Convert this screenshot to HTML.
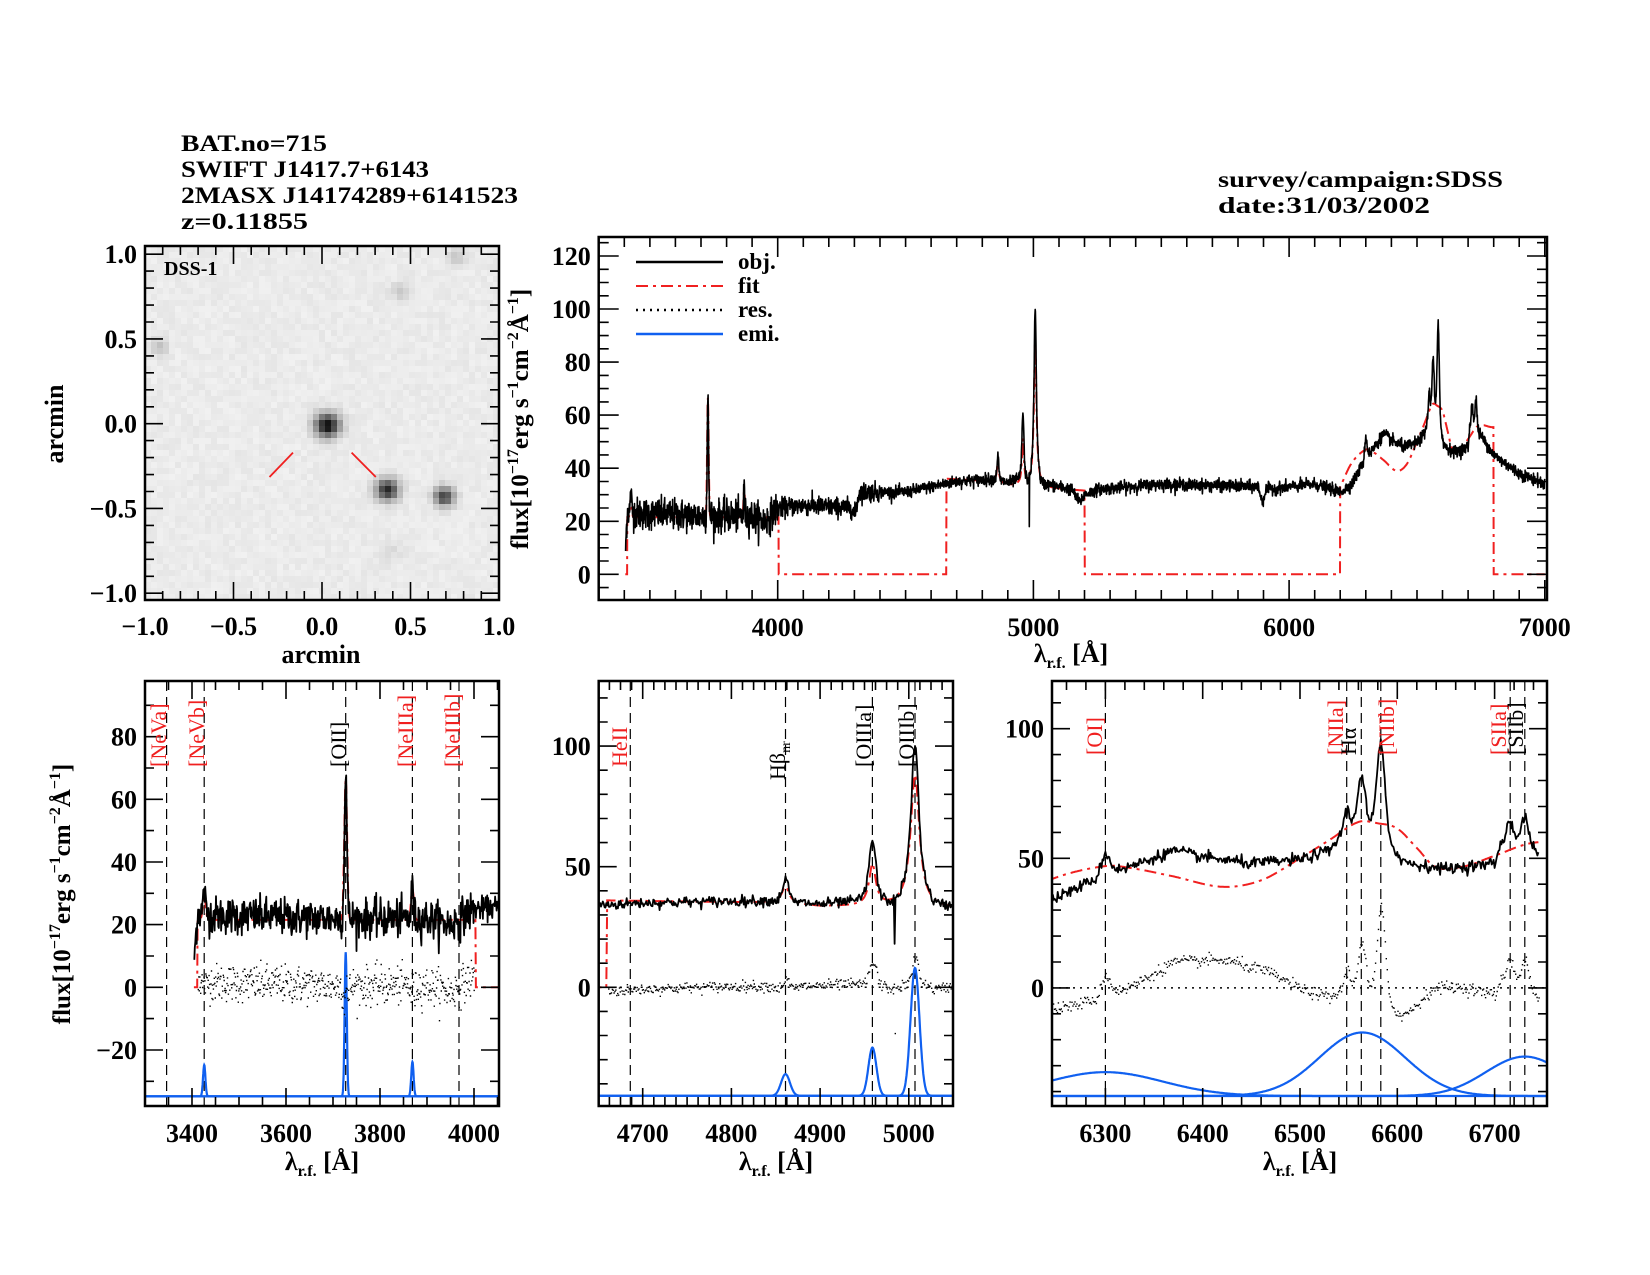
<!DOCTYPE html>
<html><head><meta charset="utf-8">
<style>
html,body{margin:0;padding:0;background:#fff;}
svg{display:block;}
text{font-family:"Liberation Serif",serif;}
</style></head>
<body>
<svg id="s" xmlns="http://www.w3.org/2000/svg" width="1650" height="1275" viewBox="0 0 1650 1275">
<rect width="1650" height="1275" fill="#fff"/>
<g font-size="23" fill="#000" font-weight="bold">
<text x="181" y="151" textLength="146" lengthAdjust="spacingAndGlyphs">BAT.no=715</text>
<text x="181" y="177" textLength="248" lengthAdjust="spacingAndGlyphs">SWIFT J1417.7+6143</text>
<text x="181" y="203" textLength="337" lengthAdjust="spacingAndGlyphs">2MASX J14174289+6141523</text>
<text x="181" y="229" textLength="127" lengthAdjust="spacingAndGlyphs">z=0.11855</text>
<text x="1218" y="187" textLength="285" lengthAdjust="spacingAndGlyphs">survey/campaign:SDSS</text>
<text x="1218" y="213" textLength="212" lengthAdjust="spacingAndGlyphs">date:31/03/2002</text>
</g>
<g id="dyn"></g>
</svg>
<script>
(function(){
var out=[];
function A(s){out.push(s);}
var seed=12345;
function rnd(){seed=(seed*1103515245+12345)%2147483648;return seed/2147483648;}
function gauss(){var u=rnd()||1e-9,v=rnd();return Math.sqrt(-2*Math.log(u))*Math.cos(2*Math.PI*v);}
function lin(pts,x){if(x<=pts[0][0])return pts[0][1];for(var i=1;i<pts.length;i++){if(x<=pts[i][0]){var a=pts[i-1],b=pts[i];return a[1]+(b[1]-a[1])*(x-a[0])/(b[0]-a[0]);}}return pts[pts.length-1][1];}
function cr(pts,x){
 var n=pts.length;if(x<=pts[0][0])return pts[0][1];if(x>=pts[n-1][0])return pts[n-1][1];
 var i=1;while(pts[i][0]<x)i++;
 var p1=pts[i-1],p2=pts[i],p0=pts[Math.max(0,i-2)],p3=pts[Math.min(n-1,i+1)];
 var t=(x-p1[0])/(p2[0]-p1[0]);
 var m1=(p2[1]-p0[1])/(p2[0]-p0[0])*(p2[0]-p1[0]);
 var m2=(p3[1]-p1[1])/(p3[0]-p1[0])*(p2[0]-p1[0]);
 var t2=t*t,t3=t2*t;
 return (2*t3-3*t2+1)*p1[1]+(t3-2*t2+t)*m1+(-2*t3+3*t2)*p2[1]+(t3-t2)*m2;}
function G(x,c,a,s){return a*Math.exp(-(x-c)*(x-c)/(2*s*s));}
function L(x,c,a,g){return a/(1+(x-c)*(x-c)/(g*g));}
var contPts=[[3405,10],[3412,24],[3450,23],[3700,22],[3900,22],[3950,20],[4000,25],[4100,26],[4290,25],[4300,22],[4320,31],[4500,31],[4700,35],[4850,36],[4900,34.5],[4950,36],[5050,34],[5150,32],[5180,27],[5200,30],[5250,32],[5500,34],[5880,33],[5895,27],[5910,32],[6100,34],[6200,31],[6245,34],[6290,42],[6300,46],[6320,46],[6370,53],[6400,50.5],[6450,48],[6500,49.5],[6530,53],[6545,60],[6555,62],[6575,62],[6595,55],[6605,49],[6620,47.5],[6650,46],[6700,48],[6706,55],[6745,53],[6760,51],[6800,45],[6900,38],[7000,34]];
var lam=[],obj=[],fit=[];
for(var l=3400;l<=7000;l+=1){
 var c=lin(contPts,l);
 var v=c+G(l,3426,8,2)+G(l,3727,48,2.5)+G(l,3869,11,2)+G(l,4861,9,3.5)+G(l,4959,20,3.5)+G(l,5007,40,3.5)+G(l,5007,25,9)+G(l,4959,5,8)
   +G(l,6300,6,4)+G(l,6548,8,3)+G(l,6563,20,4)+G(l,6583,35,4)+G(l,6716,10,4)+G(l,6731,12,4);
 var ns=l<4000?3.0:(l<4400?1.8:1.1);
 v+=gauss()*ns;
 if(l==4984)v=18;
 lam.push(l);obj.push(v);
 var f=null;
 if(l<3412)f=0;
 else if(l<=4003)f=21.5+G(l,3426,8,3)+G(l,3727,45,3)+G(l,3869,10,3);
 else if(l<4660)f=0;
 else if(l<=5200)f=lin([[4660,36],[4850,35],[4900,33.5],[4950,33.5],[5050,32.5],[5200,31.5]],l)+L(l,4861,7,5)+L(l,4959,17,4.5)+L(l,5007,55,6);
 else if(l<6200)f=0;
 else if(l<6800)f=cr([[6200,33],[6245,42],[6300,47],[6330,46],[6370,43],[6420,39],[6460,41.5],[6500,50],[6530,57],[6560,64],[6580,63.5],[6600,61.5],[6620,54],[6640,46.5],[6670,47],[6700,51],[6740,56],[6790,55.5]],l);
 else f=0;
 fit.push(f);
}
function mk(ax,al,sx,ay,sy,x0,x1,y0,y1){return {px:function(l){return ax+(l-al)*sx;},py:function(v){return ay-v*sy;},lx:function(x){return al+(x-ax)/sx;},vy:function(y){return (ay-y)/sy;},x0:x0,x1:x1,y0:y0,y1:y1};}
var TOP=mk(777.7,4000,0.2557,574.3,2.6525,598.7,1547,237,600);
var P1=mk(192,3400,0.47,987.3,3.133,145,499,681,1106);
var P2=mk(642.7,4700,0.887,987.3,2.412,598.7,953,681,1106);
var P3=mk(1105.4,6300,0.973,987.9,2.592,1052,1547,681,1106);
var cid=0;
function clip(P){cid++;A('<clipPath id="c'+cid+'"><rect x="'+P.x0+'" y="'+P.y0+'" width="'+(P.x1-P.x0)+'" height="'+(P.y1-P.y0)+'"/></clipPath>');return 'c'+cid;}
function line(P,arr,lo,hi,style){
 var d='',first=true;
 for(var i=0;i<lam.length;i++){var l=lam[i];if(l<lo||l>hi)continue;var v=arr(i);if(v===null)continue;
  d+=(first?'M':'L')+P.px(l).toFixed(1)+' '+P.py(v).toFixed(1);first=false;}
 A('<path d="'+d+'" fill="none" '+style+'/>');}
function fmtI(t){t=Math.round(t);return (t<0?'\u2212':'')+Math.abs(t);}
function fmtA(t){var s=Math.abs(t).toFixed(1);return (t<-1e-9?'\u2212':'')+s;}
function axes(P,xl,xmaj,xmin,yl,ymaj,ymin,fmt,majL,minL){
 var s='';
 var lmin=P.lx(P.x0),lmax=P.lx(P.x1);
 for(var t=Math.ceil(lmin/xmin)*xmin;t<=lmax+1e-6;t+=xmin){
  var x=P.px(t);var isM=Math.abs(t/xmaj-Math.round(t/xmaj))<1e-6;var len=isM?majL:minL;
  s+='M'+x.toFixed(1)+' '+P.y1+'v'+(-len)+'M'+x.toFixed(1)+' '+P.y0+'v'+len;
  if(isM&&xl)A('<text x="'+x.toFixed(1)+'" y="'+(P.y1+36)+'" font-size="26" font-weight="bold" text-anchor="middle">'+fmt(t)+'</text>');}
 var vmin=P.vy(P.y1),vmax=P.vy(P.y0);
 for(var t=Math.ceil(vmin/ymin)*ymin;t<=vmax+1e-6;t+=ymin){
  var y=P.py(t);var isM=Math.abs(t/ymaj-Math.round(t/ymaj))<1e-6;var len=isM?majL:minL;
  s+='M'+P.x0+' '+y.toFixed(1)+'h'+len+'M'+P.x1+' '+y.toFixed(1)+'h'+(-len);
  if(isM&&yl)A('<text x="'+(P.x0-8)+'" y="'+(y+9).toFixed(1)+'" font-size="26" font-weight="bold" text-anchor="end">'+fmtI(t)+'</text>');}
 A('<path d="'+s+'" stroke="#000" stroke-width="1.6" fill="none"/>');
 A('<rect x="'+P.x0+'" y="'+P.y0+'" width="'+(P.x1-P.x0)+'" height="'+(P.y1-P.y0)+'" fill="none" stroke="#000" stroke-width="2.5"/>');}
var RED='#f02020',BLUE='#1060f0';
var FIT='stroke="'+RED+'" stroke-width="2" stroke-dasharray="12 5 3 5"';
var OBJ='stroke="#000" stroke-width="1.8" stroke-linejoin="round"';
// DSS
var dx=function(u){return 322+u*177;},dy=function(v){return 423.7-v*169.5;};
var stars=[[0.03,-0.01,0.95,0.05],[0.37,-0.39,0.85,0.045],[0.69,-0.43,0.75,0.04],[-0.92,0.45,0.18,0.035],[0.44,0.78,0.15,0.035],[0.76,0.98,0.16,0.035],[0.4,-0.75,0.06,0.05]];
var ps=6,g='';
for(var yy=246;yy<600;yy+=ps){for(var xx=145;xx<499;xx+=ps){
 var u=(xx+ps/2-322)/177,v=(423.7-(yy+ps/2))/169.5;
 var b=0.03+rnd()*0.05;
 for(var k=0;k<stars.length;k++){var st=stars[k];var r2=((u-st[0])*(u-st[0])+(v-st[1])*(v-st[1]))/(st[3]*st[3]);b+=st[2]*Math.exp(-r2/2);}
 b=Math.min(1,b);var c=Math.round(248-b*235);
 g+='<rect x="'+xx+'" y="'+yy+'" width="'+Math.min(ps,499-xx)+'" height="'+Math.min(ps,600-yy)+'" fill="rgb('+c+','+c+','+c+')"/>';}}
A(g);
A('<path d="M269.5 477L293 452.6M351.6 452.6L375.8 477" stroke="'+RED+'" stroke-width="1.8"/>');
A('<text x="164" y="275" font-size="20" font-weight="bold">DSS-1</text>');
(function(){var s='';for(var t=-10;t<=10;t++){var v=t/10,isM=(t%5==0),len=isM?18:9;var x=dx(v),y=dy(v);
 s+='M'+x.toFixed(1)+' 600v'+(-len)+'M'+x.toFixed(1)+' 246v'+len+'M145 '+y.toFixed(1)+'h'+len+'M499 '+y.toFixed(1)+'h'+(-len);
 if(isM){A('<text x="'+x.toFixed(1)+'" y="635" font-size="26" font-weight="bold" text-anchor="middle">'+fmtA(v)+'</text>');
  A('<text x="137" y="'+(y+9).toFixed(1)+'" font-size="26" font-weight="bold" text-anchor="end">'+fmtA(v)+'</text>');}}
 A('<path d="'+s+'" stroke="#000" stroke-width="1.6"/>');
 A('<rect x="145" y="246" width="354" height="354" fill="none" stroke="#000" stroke-width="2.5"/>');})();
A('<text x="321" y="663" font-size="26" font-weight="bold" text-anchor="middle">arcmin</text>');
A('<text transform="translate(63,424) rotate(-90)" font-size="26" font-weight="bold" text-anchor="middle">arcmin</text>');
// TOP
var c1=clip(TOP);
A('<g clip-path="url(#'+c1+')">');
line(TOP,function(i){return fit[i];},3404,7000,FIT);
line(TOP,function(i){return obj[i];},3405,7000,'stroke="#000" stroke-width="1.6" stroke-linejoin="round"');
A('</g>');
axes(TOP,1,1000,100,1,20,5,function(t){return t;},20,10);
A('<path d="M636 262h87" stroke="#000" stroke-width="2.5"/><path d="M636 286h87" '+FIT+'/><path d="M636 310h87" stroke="#000" stroke-width="2.5" stroke-dasharray="2 5"/><path d="M636 334h87" stroke="'+BLUE+'" stroke-width="2.5"/>');
A('<g font-size="23" font-weight="bold"><text x="738" y="269">obj.</text><text x="738" y="293">fit</text><text x="738" y="317">res.</text><text x="738" y="341">emi.</text></g>');
A('<text x="1071" y="662" font-size="26" font-weight="bold" text-anchor="middle">\u03bb<tspan font-size="16" dy="6">r.f.</tspan><tspan dy="-6"> [\u00c5]</tspan></text>');
function ylab(x,y){A('<text transform="translate('+x+','+y+') rotate(-90)" font-size="25" font-weight="bold" text-anchor="middle">flux[10<tspan font-size="16" dy="-10">\u221217</tspan><tspan dy="10">erg s</tspan><tspan font-size="16" dy="-10">\u22121</tspan><tspan dy="10">cm</tspan><tspan font-size="16" dy="-10">\u22122</tspan><tspan dy="10">\u00c5</tspan><tspan font-size="16" dy="-10">\u22121</tspan><tspan dy="10">]</tspan></text>');}
ylab(528,419);ylab(70,894);
function resDots(P,lo,hi){var s='';for(var i=0;i<lam.length;i++){var l=lam[i];if(l<lo||l>hi)continue;var r=obj[i]-fit[i];
 s+='M'+P.px(l).toFixed(1)+' '+P.py(r).toFixed(1)+'h1.4';}
 A('<path d="'+s+'" stroke="#000" stroke-width="1.4" fill="none"/>');}
function emi(P,base,lines){var lo=P.lx(P.x0),hi=P.lx(P.x1);
 for(var k=0;k<lines.length;k++){var d='';var ln=lines[k];
  for(var l=lo;l<=hi;l+=0.5){d+=(l==lo?'M':'L')+P.px(l).toFixed(1)+' '+P.py(base+G(l,ln[0],ln[1],ln[2])).toFixed(1);}
  A('<path d="'+d+'" fill="none" stroke="'+BLUE+'" stroke-width="2.2"/>');}}
function vline(P,l){var x=P.px(l).toFixed(1);A('<path d="M'+x+' '+P.y0+'V'+P.y1+'" stroke="#000" stroke-width="1.2" stroke-dasharray="10 6"/>');}
function lbl(x,y,txt,col){A('<text transform="translate('+x+','+y+') rotate(-90)" font-size="22" fill="'+col+'">'+txt+'</text>');}
function zeroLine(P){A('<path d="M'+P.x0+' '+P.py(0).toFixed(1)+'H'+P.x1+'" stroke="#000" stroke-width="1.5" stroke-dasharray="2 5"/>');}
// P1
var k1=clip(P1);A('<g clip-path="url(#'+k1+')">');
[3346,3426,3727,3869,3968].forEach(function(l){vline(P1,l);});
emi(P1,-34.8,[[3426,10,2.5],[3727,46,2.3],[3869,11,2.5]]);
resDots(P1,3412,4000);
line(P1,function(i){return fit[i];},3404,4100,FIT);
line(P1,function(i){return obj[i];},3405,4100,OBJ);
A('</g>');
axes(P1,1,200,50,1,20,10,function(t){return t;},18,9);
lbl(166,767,'[NeVa]',RED);lbl(204,767,'[NeVb]',RED);lbl(346,767,'[OII]','#000');lbl(413,767,'[NeIIIa]',RED);lbl(460,767,'[NeIIIb]',RED);
// P2
var k2=clip(P2);A('<g clip-path="url(#'+k2+')">');
[4686,4861,4959,5007].forEach(function(l){vline(P2,l);});
zeroLine(P2);
emi(P2,-45,[[4861,9,5],[4959,20,4.5],[5007,53,5]]);
resDots(P2,4661,5060);
line(P2,function(i){return fit[i];},4640,5060,FIT);
line(P2,function(i){return obj[i];},4640,5060,OBJ);
A('</g>');
axes(P2,1,100,12.5,1,50,10,function(t){return t;},18,9);
lbl(627,767,'HeII',RED);
A('<text transform="translate(785,780) rotate(-90)" font-size="22">H\u03b2<tspan font-size="14" dy="5">nr</tspan></text>');
lbl(871,767,'[OIIIa]','#000');lbl(914,767,'[OIIIb]','#000');
// P3
var k3=clip(P3);A('<g clip-path="url(#'+k3+')">');
[6300,6548,6563,6583,6716,6731].forEach(function(l){vline(P3,l);});
zeroLine(P3);
emi(P3,-41.7,[[6300,9.2,59],[6564,24.5,44],[6731,15.2,40]]);
resDots(P3,6245,6745);
line(P3,function(i){return fit[i];},6240,6745,FIT);
line(P3,function(i){return obj[i];},6240,6745,OBJ);
A('</g>');
axes(P3,1,100,20,1,50,10,function(t){return t;},18,9);
lbl(1102,755,'[OI]',RED);lbl(1343,755,'[NIIa]',RED);lbl(1356,755,'H\u03b1','#000');lbl(1394,755,'[NIIb]',RED);lbl(1506,755,'[SIIa]',RED);lbl(1523,755,'[SIIb]','#000');
[322,776,1300].forEach(function(x){A('<text x="'+x+'" y="1170" font-size="26" font-weight="bold" text-anchor="middle">\u03bb<tspan font-size="16" dy="6">r.f.</tspan><tspan dy="-6"> [\u00c5]</tspan></text>');});
document.getElementById('dyn').innerHTML=out.join('');
})();
</script>
</body></html>
